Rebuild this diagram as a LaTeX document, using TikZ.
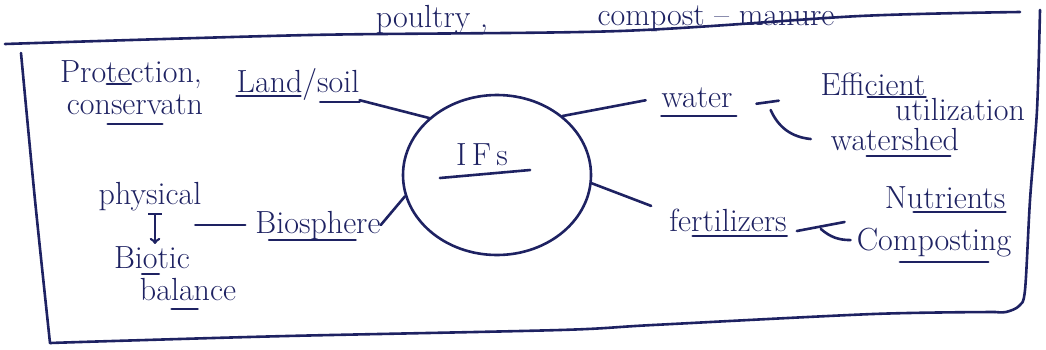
\documentclass[tikz,border=0pt]{standalone}
\usepackage{amsmath,amssymb}
\usepackage{tikz}
\usetikzlibrary{
	shapes,
	calc,
	positioning}
\definecolor{inkblue}{RGB}{30,34,98}
\newcommand{\inkunder}[4]{\draw[inkline] ($(#1.base west)!#2!(#1.base east)+(0,#4)$) -- ($(#1.base west)!#3!(#1.base east)+(0,#4)$);}

\begin{document}
\begin{tikzpicture}[x=1pt,y=-1pt,
	inkline/.style={draw=inkblue, line width=2.6pt, line cap=round, line join=round},
	word/.style={text=inkblue, font=\fontsize{32}{32}\selectfont, inner sep=0pt, anchor=base},
	hub/.style={ellipse, draw=inkblue, line width=2.6pt, minimum width=188pt, minimum height=160pt, inner sep=0pt}]
    \useasboundingbox (0,0) rectangle (1046,349);

    \node[word] (poultry) at (432,27) {poultry ,};
    \node[word] (manure) at (716,25) {compost -- manure};
    \node[word] (prot) at (131,82) {Protection,};
    \node[word] (cons) at (135,114) {conservatn};
    \node[word] (land) at (298,92) {Land/soil};
    \node[hub] (hub) at (497,175) {};
    \node[word] (ifs) at (482,165) {I\,F\,s};
    \node[word] (water) at (697,107) {water};
    \node[word] (eff) at (873,95) {Efficient};
    \node[word] (util) at (960,120) {utilization};
    \node[word] (wshed) at (895,150) {watershed};
    \node[word] (fert) at (728,231) {fertilizers};
    \node[word] (nutr) at (945,208) {Nutrients};
    \node[word] (comp) at (934,250) {Composting};
    \node[word] (phys) at (150,204) {physical};
    \node[word] (biotic) at (152,268) {Biotic};
    \node[word] (bal) at (188,300) {balance};
    \node[word] (bio) at (318,233) {Biosphere};

    \draw[inkline] (land.south east) -- (hub.140);
    \draw[inkline, shorten >=16pt] (hub.42) -- (water.west);
    \draw[inkline, shorten <=24pt, shorten >=42pt] (water.base east) -- (eff.base west);
    \draw[inkline] ($(water.base east)+(38,3)$) to[bend right=30] ($(wshed.west)+(-20,0)$);
    \draw[inkline] (hub.-5) -- ($(fert.west)+(-18,-14)$);
    \draw[inkline] ($(fert.base east)+(10,0)$) -- ($(nutr.base west)+(-40,14)$);
    \draw[inkline] ($(fert.base east)+(34,-2)$) to[bend right=20] ($(comp.west)+(-6,-2)$);
    \draw[inkline] (bio.east) -- (hub.193);
    \draw[inkline, shorten <=10pt] (bio.west) -- ($(bio.west)+(-60,0)$);
    \draw[inkline, |->] ($(phys.south)+(5,2)$) -- ($(biotic.north)+(3,-2)$);

    \inkunder{prot}{.33}{.5}{2}
    \inkunder{cons}{.3}{.7}{10}
    \inkunder{land}{0}{.52}{4}
    \inkunder{land}{.68}{1}{10}
    \draw[inkline] ($(ifs.base west)+(-16,13)$) -- ($(ifs.base east)+(22,5)$);
    \inkunder{water}{0}{1.05}{9}
    \inkunder{eff}{.45}{1}{2}
    \inkunder{wshed}{.28}{.93}{6}
    \inkunder{fert}{.2}{1}{5}
    \inkunder{nutr}{.24}{1}{4}
    \inkunder{comp}{.28}{.85}{12}
    \inkunder{biotic}{.37}{.59}{6}
    \inkunder{bal}{.33}{.6}{9}
    \inkunder{bio}{.11}{.8}{7}

    \draw[inkline] plot[smooth] coordinates {(5,44) (310,35) (620,31) (860,16) (1020,12)};
    \draw[inkline] plot[smooth] coordinates {(1040,10) (1037,110) (1030,200) (1025,290) (1019,306) (1006,312) (995,312)};
    \draw[inkline] plot[smooth] coordinates {(995,312) (873,314) (653,325) (560,330) (287,336) (113,341) (50,343)};
    \draw[inkline] plot[smooth] coordinates {(21,53) (35,200) (50,343)};
  \end{tikzpicture}
\end{document}
